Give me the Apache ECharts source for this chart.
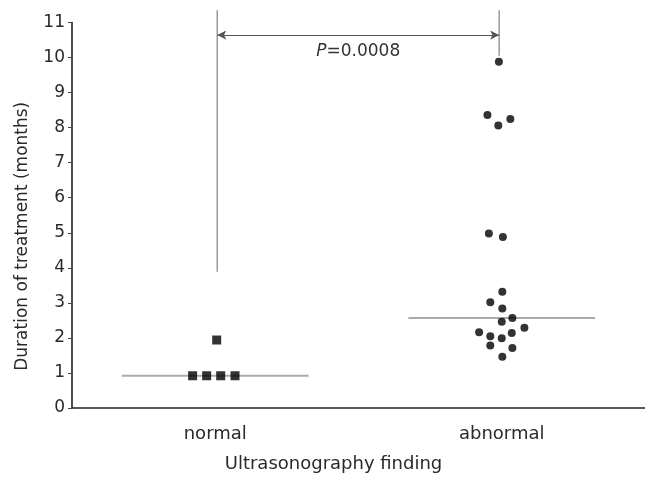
<!DOCTYPE html>
<html>
<head>
<meta charset="utf-8">
<script src="https://cdn.jsdelivr.net/npm/echarts@6/dist/echarts.min.js"></script>
<style>
  html, body { margin: 0; padding: 0; background: #fff; }
  #chart { width: 645px; height: 478px; }
</style>
</head>
<body>
<div id="chart"></div>
<script>
// Groups on the x axis
const categories = ['normal', 'abnormal'];
// Position of each group on the hidden numeric x axis (0..2)
const groupCenter = [0.5, 1.5];

// Normal ultrasonography: horizontal offsets and durations (months)
const normalOffset = [-0.079, -0.030, 0.019, 0.069, 0.005];
const normalMonths = [0.92, 0.92, 0.92, 0.92, 1.94];

// Abnormal ultrasonography: horizontal offsets and durations (months)
const abnormalOffset = [-0.010, -0.050, 0.030, -0.012, -0.045, 0.004, 0.002, -0.040, 0.002,
                        0.037, 0.000, 0.079, -0.079, 0.035, -0.040, 0.000, -0.040, 0.037, 0.002];
const abnormalMonths = [9.88, 8.36, 8.25, 8.06, 4.98, 4.88, 3.32, 3.02, 2.84,
                        2.57, 2.46, 2.29, 2.16, 2.14, 2.05, 1.99, 1.78, 1.71, 1.46];

// Group medians
const medians = [0.92, 2.57];

// Comparison bracket
const pLabel = '0.0008';
const bracketLevel = 10.64;
const bracketTop = 11.35;
const leftDrop = 3.89;
const rightDrop = 10.05;
const bracketEnds = [0.507, 1.491];

const yTicks = [0, 1, 2, 3, 4, 5, 6, 7, 8, 9, 10, 11];

const FONT = 'DejaVu Sans';
const medianHalf = 0.326;

const normalPts = normalOffset.map((d, i) => [groupCenter[0] + d, normalMonths[i]]);
const abnormalPts = abnormalOffset.map((d, i) => [groupCenter[1] + d, abnormalMonths[i]]);

const chart = echarts.init(document.getElementById('chart'), null, { renderer: 'canvas' });

const option = {
  animation: false,
  backgroundColor: '#fff',
  textStyle: { fontFamily: FONT },
  grid: { left: 72, right: 0, top: 22.5, bottom: 65 },
  xAxis: [
    {
      type: 'category',
      data: categories,
      boundaryGap: true,
      axisLine: { lineStyle: { color: '#222', width: 1.6 } },
      axisTick: { alignWithLabel: true, length: 5, lineStyle: { color: '#444', width: 1 } },
      axisLabel: { fontSize: 18, color: '#2a2a2a', margin: 17, fontFamily: FONT },
      name: 'Ultrasonography finding',
      nameLocation: 'middle',
      nameGap: 47,
      nameTextStyle: { fontSize: 18, color: '#2a2a2a', fontFamily: FONT, padding: [0, 50, 0, 0] },
      splitLine: { show: false }
    },
    {
      type: 'value',
      min: 0,
      max: 2,
      show: false
    }
  ],
  yAxis: {
    type: 'value',
    min: yTicks[0],
    max: yTicks[yTicks.length - 1],
    interval: 1,
    axisLine: { show: true, lineStyle: { color: '#222', width: 1.6 } },
    axisTick: { show: true, length: 4, lineStyle: { color: '#444', width: 1 } },
    axisLabel: { fontSize: 17, color: '#2a2a2a', margin: 7, fontFamily: FONT },
    splitLine: { show: false },
    name: 'Duration of treatment (months)',
    nameLocation: 'middle',
    nameRotate: 90,
    nameGap: 41,
    nameTextStyle: { fontSize: 17, color: '#2a2a2a', fontFamily: FONT, padding: [0, 42, 0, 0] }
  },
  series: [
    {
      name: 'normal median',
      type: 'line',
      xAxisIndex: 1,
      data: [[groupCenter[0] - medianHalf, medians[0]], [groupCenter[0] + medianHalf, medians[0]]],
      symbol: 'none',
      lineStyle: { color: '#aaa', width: 2 },
      z: 1
    },
    {
      name: 'abnormal median',
      type: 'line',
      xAxisIndex: 1,
      data: [[groupCenter[1] - medianHalf, medians[1]], [groupCenter[1] + medianHalf, medians[1]]],
      symbol: 'none',
      lineStyle: { color: '#aaa', width: 2 },
      z: 1
    },
    {
      name: 'left drop',
      type: 'line',
      xAxisIndex: 1,
      clip: false,
      data: [[bracketEnds[0], bracketTop], [bracketEnds[0], leftDrop]],
      symbol: 'none',
      lineStyle: { color: '#999', width: 1.5 },
      z: 1
    },
    {
      name: 'right drop',
      type: 'line',
      xAxisIndex: 1,
      clip: false,
      data: [[bracketEnds[1], bracketTop], [bracketEnds[1], rightDrop]],
      symbol: 'none',
      lineStyle: { color: '#999', width: 1.5 },
      z: 1,
      markLine: {
        silent: true,
        symbol: ['arrow', 'arrow'],
        symbolSize: [7, 9],
        lineStyle: { color: '#555', width: 1, type: 'solid' },
        label: {
          show: true,
          position: 'insideMiddleBottom',
          distance: 8,
          formatter: '{p|P}{v|=' + pLabel + '}',
          rich: {
            p: { fontSize: 17, fontStyle: 'italic', color: '#333', fontFamily: FONT },
            v: { fontSize: 17, color: '#333', fontFamily: FONT }
          }
        },
        data: [[
          { coord: [bracketEnds[0], bracketLevel] },
          { coord: [bracketEnds[1], bracketLevel] }
        ]]
      }
    },
    {
      name: 'normal',
      type: 'scatter',
      xAxisIndex: 1,
      data: normalPts,
      symbol: 'rect',
      symbolSize: 9,
      itemStyle: { color: '#000' },
      z: 3
    },
    {
      name: 'abnormal',
      type: 'scatter',
      xAxisIndex: 1,
      data: abnormalPts,
      symbol: 'circle',
      symbolSize: 8,
      itemStyle: { color: '#000' },
      z: 3
    }
  ]
};

chart.setOption(option);
</script>
</body>
</html>
